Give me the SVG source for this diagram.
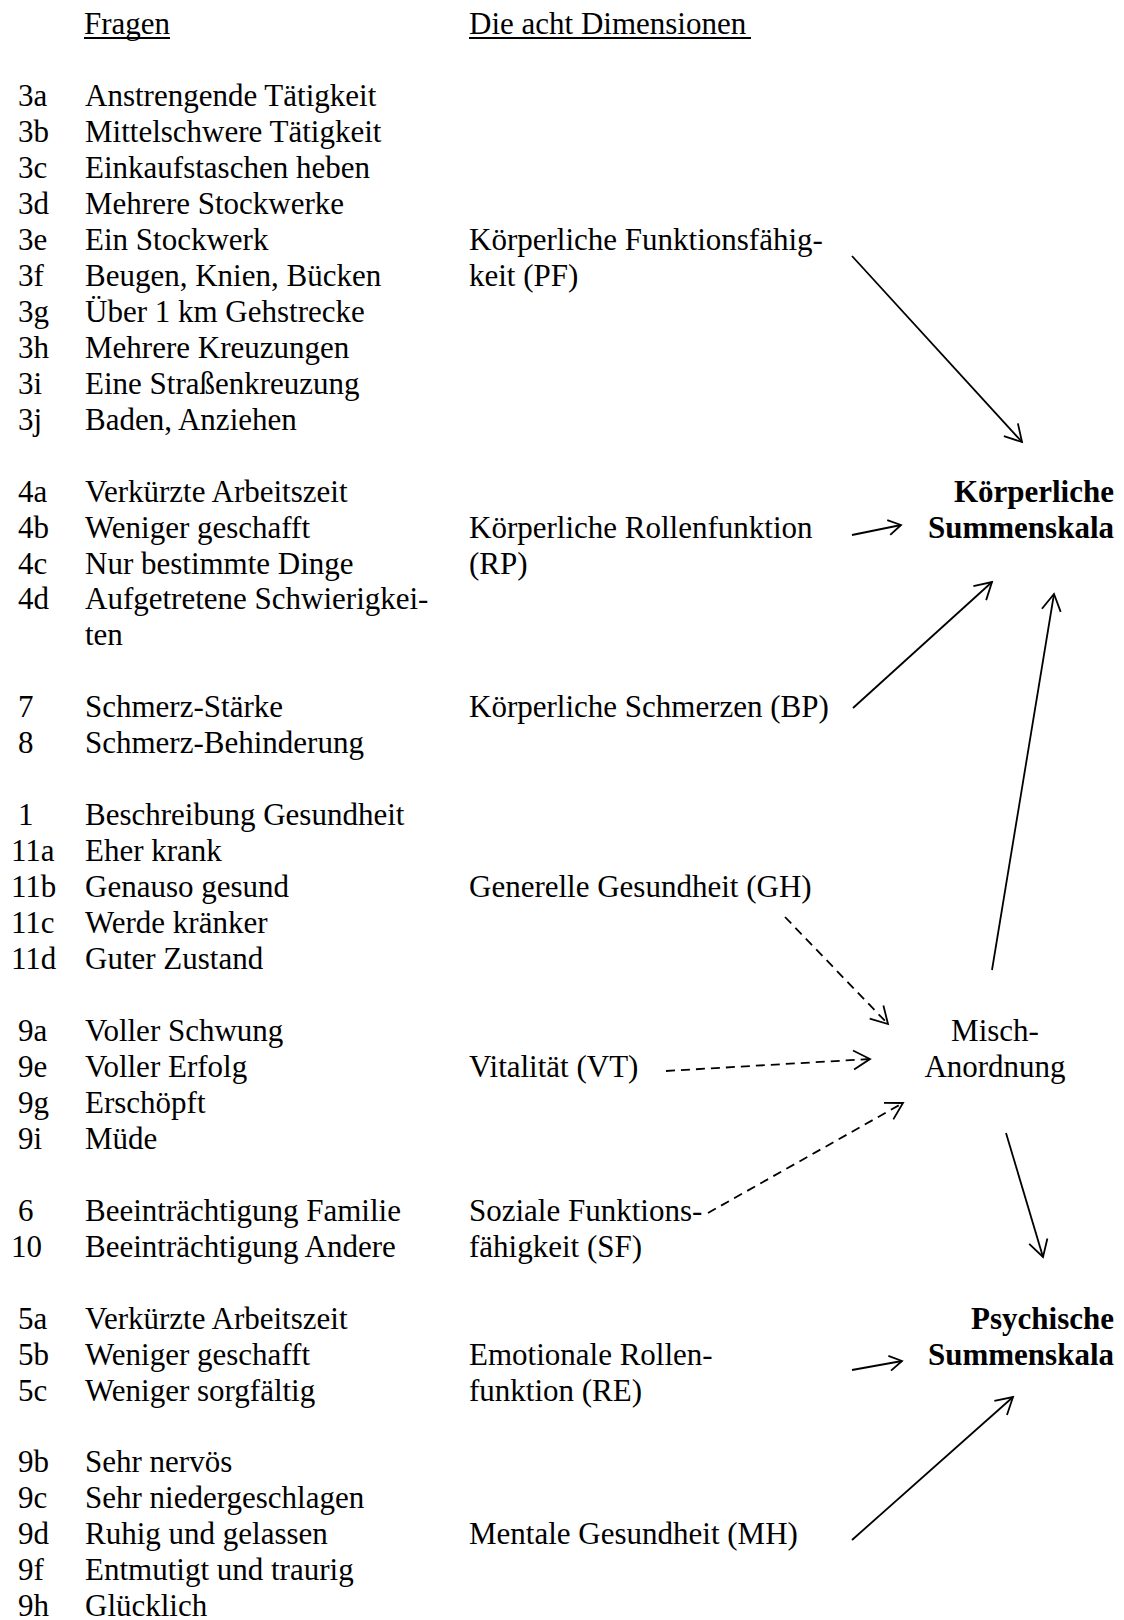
<svg xmlns="http://www.w3.org/2000/svg" width="1124" height="1620" viewBox="0 0 1124 1620">
<style>
text{font-family:"Liberation Serif","Times New Roman",serif;font-size:31px;fill:#000}
.b{font-weight:bold}
.e{text-anchor:end}
.m{text-anchor:middle}
.c{fill:none;stroke:#000;stroke-width:1.8}
.d{stroke-dasharray:9 6}
.h{fill:none;stroke:#000;stroke-width:1.8;stroke-dasharray:none;stroke-linejoin:miter}
.u{stroke:#000;stroke-width:1.8}
</style>
<defs>
<marker id="ah" markerUnits="userSpaceOnUse" orient="auto" refX="0" refY="0" markerWidth="40" markerHeight="40" overflow="visible" style="overflow:visible">
<path class="h" d="M-16.5,-9.5 L0,0 L-16.5,9.5"/>
</marker>
<marker id="ahs" markerUnits="userSpaceOnUse" orient="auto" refX="0" refY="0" markerWidth="30" markerHeight="30" overflow="visible" style="overflow:visible">
<path class="h" d="M-12.5,-7.5 L0,0 L-12.5,7.5"/>
</marker>
</defs>
<rect width="1124" height="1620" fill="#fff"/>

<g id="headers">
<text x="84" y="34">Fragen</text>
<line class="u" x1="84" y1="38" x2="170" y2="38"/>
<text x="469" y="34">Die acht Dimensionen</text>
<line class="u" x1="469" y1="38" x2="751" y2="38"/>
</g>

<g id="q-pf">
<text x="18" y="106">3a</text><text x="85" y="106">Anstrengende Tätigkeit</text>
<text x="18" y="142">3b</text><text x="85" y="142">Mittelschwere Tätigkeit</text>
<text x="18" y="178">3c</text><text x="85" y="178">Einkaufstaschen heben</text>
<text x="18" y="214">3d</text><text x="85" y="214">Mehrere Stockwerke</text>
<text x="18" y="250">3e</text><text x="85" y="250">Ein Stockwerk</text>
<text x="18" y="286">3f</text><text x="85" y="286">Beugen, Knien, Bücken</text>
<text x="18" y="322">3g</text><text x="85" y="322">Über 1 km Gehstrecke</text>
<text x="18" y="358">3h</text><text x="85" y="358">Mehrere Kreuzungen</text>
<text x="18" y="394">3i</text><text x="85" y="394">Eine Straßenkreuzung</text>
<text x="18" y="430">3j</text><text x="85" y="430">Baden, Anziehen</text>
</g>

<g id="q-rp">
<text x="18" y="502">4a</text><text x="85" y="502">Verkürzte Arbeitszeit</text>
<text x="18" y="538">4b</text><text x="85" y="538">Weniger geschafft</text>
<text x="18" y="574">4c</text><text x="85" y="574">Nur bestimmte Dinge</text>
<text x="18" y="609">4d</text><text x="85" y="609">Aufgetretene Schwierigkei-</text>
<text x="85" y="645">ten</text>
</g>

<g id="q-bp">
<text x="18" y="717">7</text><text x="85" y="717">Schmerz-Stärke</text>
<text x="18" y="753">8</text><text x="85" y="753">Schmerz-Behinderung</text>
</g>

<g id="q-gh">
<text x="18" y="825">1</text><text x="85" y="825">Beschreibung Gesundheit</text>
<text x="11" y="861">11a</text><text x="85" y="861">Eher krank</text>
<text x="11" y="897">11b</text><text x="85" y="897">Genauso gesund</text>
<text x="11" y="933">11c</text><text x="85" y="933">Werde kränker</text>
<text x="11" y="969">11d</text><text x="85" y="969">Guter Zustand</text>
</g>

<g id="q-vt">
<text x="18" y="1041">9a</text><text x="85" y="1041">Voller Schwung</text>
<text x="18" y="1077">9e</text><text x="85" y="1077">Voller Erfolg</text>
<text x="18" y="1113">9g</text><text x="85" y="1113">Erschöpft</text>
<text x="18" y="1149">9i</text><text x="85" y="1149">Müde</text>
</g>

<g id="q-sf">
<text x="18" y="1221">6</text><text x="85" y="1221">Beeinträchtigung Familie</text>
<text x="11" y="1257">10</text><text x="85" y="1257">Beeinträchtigung Andere</text>
</g>

<g id="q-re">
<text x="18" y="1329">5a</text><text x="85" y="1329">Verkürzte Arbeitszeit</text>
<text x="18" y="1365">5b</text><text x="85" y="1365">Weniger geschafft</text>
<text x="18" y="1401">5c</text><text x="85" y="1401">Weniger sorgfältig</text>
</g>

<g id="q-mh">
<text x="18" y="1472">9b</text><text x="85" y="1472">Sehr nervös</text>
<text x="18" y="1508">9c</text><text x="85" y="1508">Sehr niedergeschlagen</text>
<text x="18" y="1544">9d</text><text x="85" y="1544">Ruhig und gelassen</text>
<text x="18" y="1580">9f</text><text x="85" y="1580">Entmutigt und traurig</text>
<text x="18" y="1616">9h</text><text x="85" y="1616">Glücklich</text>
</g>

<g id="dim-pf"><text x="469" y="250">Körperliche Funktionsfähig-</text><text x="469" y="286">keit (PF)</text></g>
<g id="dim-rp"><text x="469" y="538">Körperliche Rollenfunktion</text><text x="469" y="574">(RP)</text></g>
<g id="dim-bp"><text x="469" y="717">Körperliche Schmerzen (BP)</text></g>
<g id="dim-gh"><text x="469" y="897">Generelle Gesundheit (GH)</text></g>
<g id="dim-vt"><text x="469" y="1077">Vitalität (VT)</text></g>
<g id="dim-sf"><text x="469" y="1221">Soziale Funktions-</text><text x="469" y="1257">fähigkeit (SF)</text></g>
<g id="dim-re"><text x="469" y="1365">Emotionale Rollen-</text><text x="469" y="1401">funktion (RE)</text></g>
<g id="dim-mh"><text x="469" y="1544">Mentale Gesundheit (MH)</text></g>

<g id="ksk"><text class="b e" x="1114" y="502">Körperliche</text><text class="b e" x="1114" y="538">Summenskala</text></g>
<g id="misch"><text class="m" x="995" y="1041">Misch-</text><text class="m" x="995" y="1077">Anordnung</text></g>
<g id="psk"><text class="b e" x="1114" y="1329">Psychische</text><text class="b e" x="1114" y="1365">Summenskala</text></g>

<g id="connectors">
<line class="c" x1="852" y1="256" x2="1022" y2="442" marker-end="url(#ah)"/>
<line class="c" x1="852" y1="535" x2="901" y2="525" marker-end="url(#ahs)"/>
<line class="c" x1="853" y1="708" x2="992" y2="582" marker-end="url(#ah)"/>
<line class="c" x1="992" y1="970" x2="1054" y2="594" marker-end="url(#ah)"/>
<line class="c d" x1="785" y1="917" x2="888" y2="1024" marker-end="url(#ah)"/>
<line class="c d" x1="666" y1="1071" x2="870" y2="1059" marker-end="url(#ah)"/>
<line class="c d" x1="708" y1="1213" x2="903" y2="1103" marker-end="url(#ah)"/>
<line class="c" x1="1006" y1="1133" x2="1043" y2="1257" marker-end="url(#ah)"/>
<line class="c" x1="852" y1="1370" x2="902" y2="1361" marker-end="url(#ahs)"/>
<line class="c" x1="852" y1="1540" x2="1013" y2="1397" marker-end="url(#ah)"/>
</g>
</svg>
